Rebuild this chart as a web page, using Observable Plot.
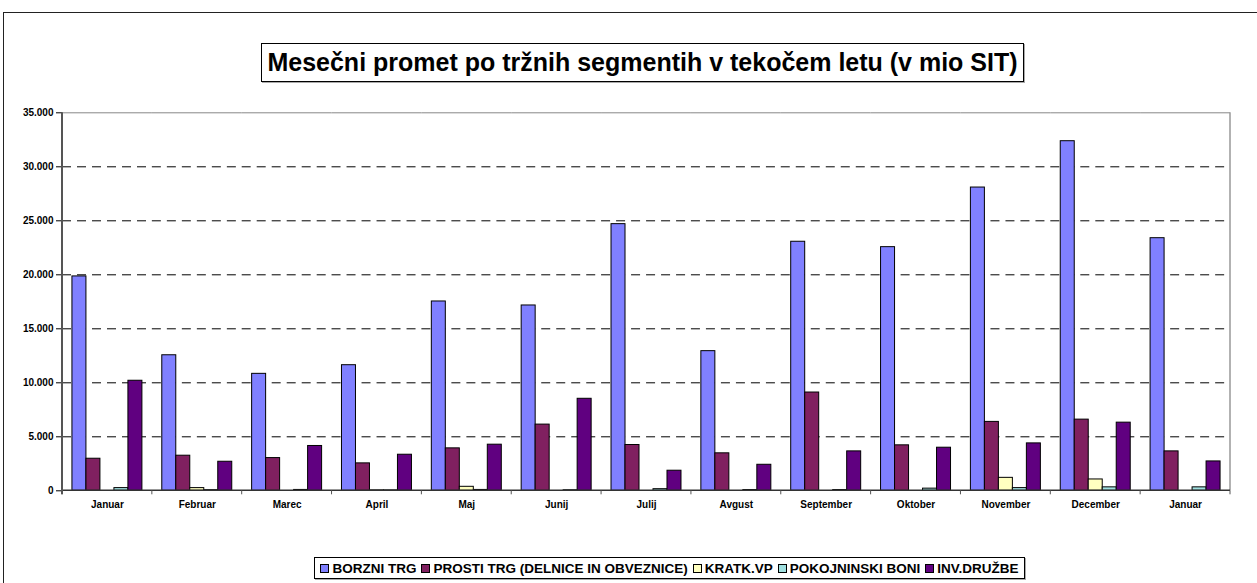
<!DOCTYPE html>
<html>
<head>
<meta charset="utf-8">
<script src="https://cdn.jsdelivr.net/npm/d3@7"></script>
<script src="https://cdn.jsdelivr.net/npm/@observablehq/plot@0.6"></script>
<style>
  html, body { margin: 0; padding: 0; background: #fff; }
  body { width: 1257px; height: 583px; position: relative; overflow: hidden;
         font-family: "Liberation Sans", Arial, sans-serif; font-weight: bold; color: #000; }
  #frame { position: absolute; left: 3px; top: 12px; width: 1270px; height: 600px;
           border: 1.5px solid #222; box-sizing: border-box; }
  #title { position: absolute; left: 261px; top: 43px; width: 763px; height: 39px;
           border: 1px solid #000; box-sizing: border-box; box-shadow: 1px 1px 0 #aaa;
           font-size: 25px; line-height: 37px; text-align: center; white-space: nowrap; }
  #chart { position: absolute; left: 0; top: 90px; }
  #legend { position: absolute; left: 314px; top: 557px; width: 711px; height: 22px;
            border: 1px solid #000; box-sizing: border-box; box-shadow: 1px 1px 0 #aaa;
            display: flex; align-items: center; justify-content: center; gap: 5px;
            font-size: 13.5px; white-space: nowrap; }
  .item { display: flex; align-items: center; gap: 3px; }
  .sw { width: 7px; height: 7px; border: 1px solid #000; display: inline-block; }
</style>
</head>
<body>
<div id="frame"></div>
<div id="title">Mesečni promet po tržnih segmentih v tekočem letu (v mio SIT)</div>
<div id="chart"></div>
<div id="legend"></div>
<script>
const months = ["Januar","Februar","Marec","April","Maj","Junij","Julij","Avgust","September","Oktober","November","December","Januar"];
const series = ["BORZNI TRG","PROSTI TRG (DELNICE IN OBVEZNICE)","KRATK.VP","POKOJNINSKI BONI","INV.DRUŽBE"];
const colors = ["#8080ff","#802060","#ffffc0","#a0e0e0","#600080"];
const borzni = [19850,12550,10830,11630,17530,17160,24690,12930,23060,22560,28080,32370,23390];
const prosti = [2970,3250,3030,2540,3930,6130,4240,3470,9100,4210,6380,6590,3650];
const kratk  = [0,250,0,40,370,0,0,0,0,0,1200,1050,0];
const pokoj  = [250,60,80,40,80,50,150,70,70,200,250,320,320];
const inv    = [10190,2690,4150,3340,4270,8520,1860,2410,3650,3990,4390,6310,2720];
const yTicks = [0,5000,10000,15000,20000,25000,30000,35000];

const seriesValues = [borzni, prosti, kratk, pokoj, inv];
const data = [];
months.forEach((m, i) => {
  series.forEach((s, k) => {
    const v = seriesValues[k][i];
    if (v > 0) data.push({m: i, s, v});
  });
});

const fmt = d3.formatLocale({decimal: ",", thousands: ".", grouping: [3], currency: ["", ""]}).format(",d");

const chart = Plot.plot({
  width: 1257,
  height: 440,
  marginLeft: 62,
  marginRight: 27,
  marginTop: 22.3,
  marginBottom: 39.7,
  style: {fontFamily: "'Liberation Sans', Arial, sans-serif", fontWeight: "bold", fontSize: "10px", color: "#000", background: "transparent", overflow: "visible"},
  fx: {domain: d3.range(months.length), paddingInner: 0, paddingOuter: 0, round: false, tickFormat: i => months[i], label: null, axis: "bottom", tickSize: 0, tickPadding: 10},
  x: {domain: series, paddingInner: 0, paddingOuter: 0.71, round: false, axis: null},
  y: {domain: [0, 35000], ticks: yTicks, tickFormat: fmt, label: null, tickSize: 6, tickPadding: 3},
  color: {domain: series, range: colors},
  marks: [
    Plot.ruleY(yTicks.slice(1, -1), {stroke: "#000", strokeDasharray: "9,6", strokeWidth: 1}),
    Plot.ruleY([35000], {stroke: "#888", strokeWidth: 1}),
    Plot.barY(data, {fx: "m", x: "s", y: "v", fill: "s", stroke: "#000", strokeWidth: 1})
  ]
});
document.getElementById("chart").appendChild(chart);

// axis lines and category boundary ticks drawn from the plot's own scales
const svg = d3.select(chart);
const fx = chart.scale("fx");
const y = chart.scale("y");
const xL = fx.range[0], xR = fx.range[1];
const y0 = y.apply(0), yTop = y.apply(35000);
const g = svg.append("g");
g.append("line").attr("x1", xR).attr("x2", xR).attr("y1", yTop).attr("y2", y0).attr("stroke", "#999").attr("stroke-width", 1.5);
g.append("line").attr("x1", xL).attr("x2", xR).attr("y1", y0).attr("y2", y0).attr("stroke", "#333").attr("stroke-width", 1.5);
g.append("line").attr("x1", xL).attr("x2", xL).attr("y1", yTop).attr("y2", y0 + 4).attr("stroke", "#555").attr("stroke-width", 2);
const bounds = fx.domain.map(d => fx.apply(d)).concat([xR]);
bounds.forEach(bx => {
  g.append("line").attr("x1", bx).attr("x2", bx).attr("y1", y0).attr("y2", y0 + 4).attr("stroke", "#555").attr("stroke-width", 1);
});

// legend
const leg = document.getElementById("legend");
series.forEach((s, k) => {
  const it = document.createElement("span");
  it.className = "item";
  const sw = document.createElement("span");
  sw.className = "sw";
  sw.style.background = colors[k];
  const t = document.createElement("span");
  t.textContent = s;
  it.appendChild(sw); it.appendChild(t);
  leg.appendChild(it);
});
</script>
</body>
</html>
